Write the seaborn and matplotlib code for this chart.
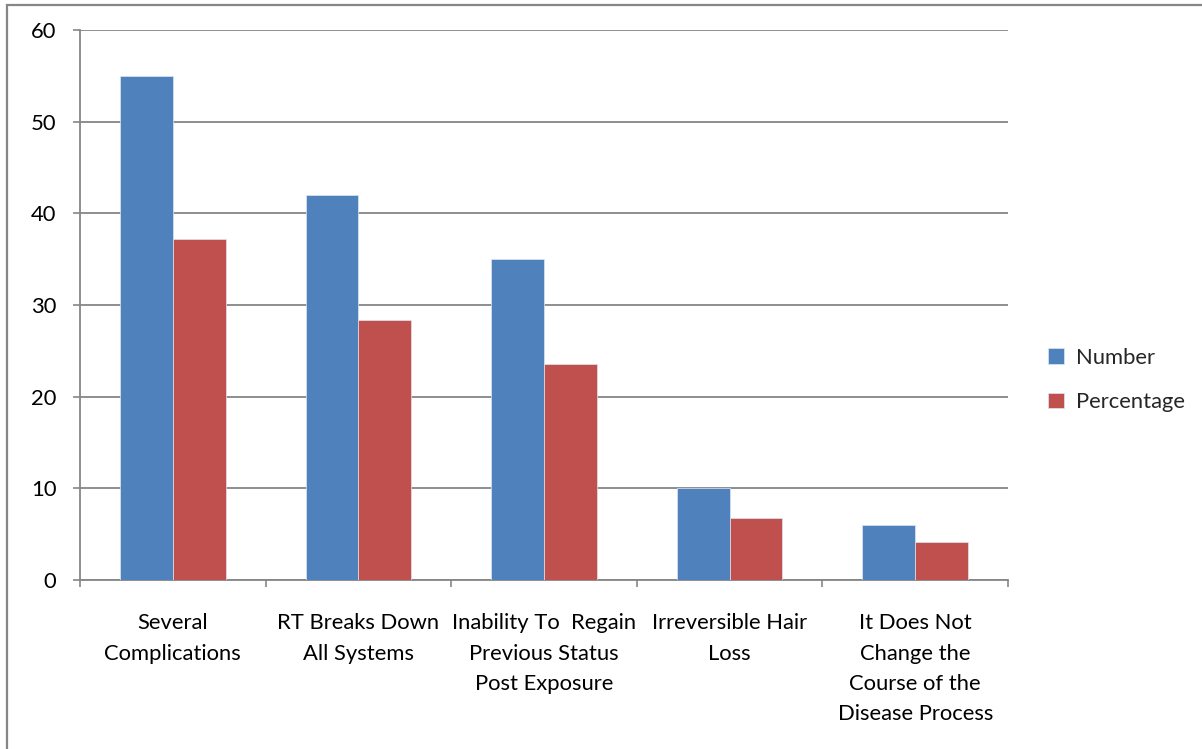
import matplotlib
matplotlib.use("Agg")
import matplotlib.pyplot as plt
import seaborn as sns
import pandas as pd
import numpy as np
from matplotlib.patches import Rectangle

categories = [
    "Several\nComplications",
    "RT Breaks Down\nAll Systems",
    "Inability To  Regain\nPrevious Status\nPost Exposure",
    "Irreversible Hair\nLoss",
    "It Does Not\nChange the\nCourse of the\nDisease Process",
]
number = [55, 42, 35, 10, 6]
percentage = [37.2, 28.4, 23.6, 6.8, 4.1]
series_names = ["Number", "Percentage"]
y_ticks = [0, 10, 20, 30, 40, 50, 60]

df = pd.DataFrame({
    "category": categories * 2,
    "value": number + percentage,
    "series": [series_names[0]] * len(categories) + [series_names[1]] * len(categories),
})

sns.set_style("white")
plt.rcParams["font.family"] = ["Lato", "DejaVu Sans"]

grid_col = "#868686"
fs = 15.8
fig = plt.figure(figsize=(12.02, 7.49), dpi=100)
ax = fig.add_axes([80 / 1202, 1 - 580 / 749, 928 / 1202, 550 / 749])

sns.barplot(
    data=df, x="category", y="value", hue="series",
    palette=["#4F81BD", "#C0504D"], saturation=1, width=0.57, gap=0,
    edgecolor="#dde6f0", linewidth=0.5, ax=ax, zorder=3,
)

ax.set_xlim(-0.5, len(categories) - 0.5)
ax.set_ylim(0, 60)
ax.set_yticks(y_ticks)
ax.set_yticklabels([str(t) for t in y_ticks])
ax.yaxis.grid(True, color=grid_col, linewidth=1.3, zorder=0)
ax.set_axisbelow(True)
ax.set_xlabel("")
ax.set_ylabel("")

for side in ["top", "right"]:
    ax.spines[side].set_visible(False)
for side in ["left", "bottom"]:
    ax.spines[side].set_color(grid_col)
    ax.spines[side].set_linewidth(1.3)

ax.tick_params(axis="y", which="major", length=5, width=1.2, color=grid_col,
               pad=12, labelsize=fs, labelcolor="black", left=True)
ax.tick_params(axis="x", which="major", length=0, pad=24, labelsize=fs,
               labelcolor="black")
ax.set_xticks(np.arange(-0.5, len(categories)), minor=True)
ax.tick_params(axis="x", which="minor", length=5, width=1.2, color=grid_col, bottom=True)
for lbl in ax.get_xticklabels():
    lbl.set_linespacing(1.64)

leg = ax.legend(
    loc="center left", bbox_to_anchor=(1.022, 0.364), frameon=False,
    fontsize=fs, handlelength=0.7, handleheight=0.7, handletextpad=0.55,
    labelspacing=1.12,
)

# outer chart frame
fig.patches.append(Rectangle((7 / 1202, -0.1), 1.2, 1 - 4.5 / 749 + 0.1,
                             transform=fig.transFigure, fill=False,
                             edgecolor=grid_col, linewidth=1.6))

fig.savefig("out.png", dpi=100)
